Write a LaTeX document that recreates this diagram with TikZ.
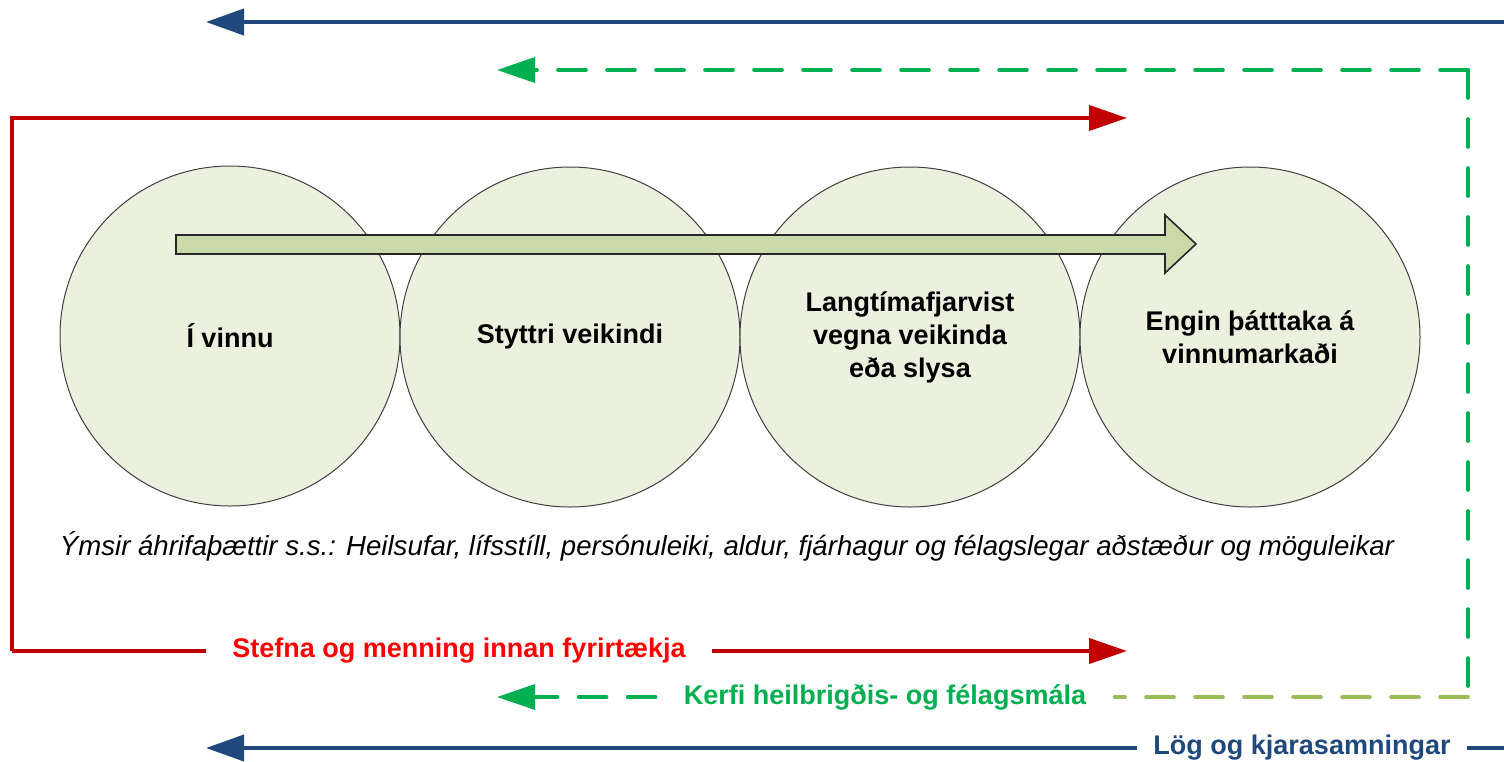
\documentclass[tikz,border=0pt]{standalone}
\usepackage{fontspec}
\setmainfont{Liberation Sans}
\usetikzlibrary{arrows.meta}
\definecolor{navy}{HTML}{1F497D}
\definecolor{dred}{HTML}{C00000}
\definecolor{tred}{HTML}{FF0000}
\definecolor{gdash}{HTML}{00B050}
\definecolor{olivel}{HTML}{9BBB59}
\definecolor{circfill}{HTML}{EBF1DE}
\definecolor{arrfill}{HTML}{C9DAA8}
\begin{document}
\begin{tikzpicture}[x=0.5pt,y=-0.5pt,
  circ/.style={circle, draw=black!75, line width=0.5pt, fill=circfill,
    minimum size=170pt, inner sep=0pt, align=center,
    font=\bfseries\fontsize{13.5}{16.5}\selectfont},
  lbl/.style={inner ysep=2pt, font=\bfseries\fontsize{13.5}{16}\selectfont},
  bluearrow/.style={draw=navy, line width=2pt},
  redarrow/.style={draw=dred, line width=2pt},
  greendash/.style={draw=gdash, line width=1.8pt, line cap=round,
    dash pattern=on 14pt off 10.5pt},
  olivedash/.style={draw=olivel, line width=1.8pt, line cap=round,
    dash pattern=on 14pt off 10.5pt},
  bluetip/.style={-{Triangle[length=19pt,width=13pt]}},
  redtip/.style={-{Triangle[length=19pt,width=12.5pt]}},
  greentip/.style={-{Triangle[length=19pt,width=12.5pt]}},
]
\useasboundingbox (0,0) rectangle (1504,761);

% circles
\node[circ] (c1) at (230,336) {Í vinnu};
\node[circ] (c2) at (570,337) {Styttri veikindi};
\node[circ] (c3) at (910,337) {Langtímafjarvist\\vegna veikinda\\eða slysa};
\node[circ] (c4) at (1250,337) {Engin þátttaka á\\vinnumarkaði};

% big arrow
\draw[fill=arrfill, draw=black!85, line width=0.8pt]
  (176,235) -- (1165,235) -- (1165,215) -- (1196,244) -- (1165,273)
  -- (1165,254) -- (176,254) -- cycle;

% italic text
\node[font=\itshape\fontsize{13.8}{16}\selectfont] (infl) at (727,546)
  {Ýmsir áhrifaþættir s.s.: Heilsufar, lífsstíll, persónuleiki, aldur, fjárhagur og félagslegar aðstæður og möguleikar};

% coordinates
\coordinate (bTR) at (1504,22);
\coordinate (bTL) at (206,22);
\coordinate (bBR) at (1504,748);
\coordinate (bBL) at (206,748);
\coordinate (gTR) at (1468,70);
\coordinate (gTL) at (497,70);
\coordinate (gBR) at (1468,697);
\coordinate (gBL) at (497,697);
\coordinate (rTL) at (12,118);
\coordinate (rTR) at (1127,118);
\coordinate (rBL) at (12,651);
\coordinate (rBR) at (1127,651);

% labels
\node[lbl, text=navy, inner xsep=8pt] (llog) at (1302,748) {Lög og kjarasamningar};
\node[lbl, text=gdash, inner xsep=14pt] (lker) at (885,697) {Kerfi heilbrigðis- og félagsmála};
\node[lbl, text=tred, inner xsep=13pt] (lstef) at (459,651) {Stefna og menning innan fyrirtækja};

% blue
\draw[bluearrow, bluetip] (bTR) -- (bTL);
\draw[bluearrow] (bBR) -- (llog.east);
\draw[bluearrow, bluetip] (llog.west) -- (bBL);

% green dashed
\draw[greendash, greentip] (gTR) -- (gTL);
\draw[greendash] (gTR) -- (gBR);
\draw[olivedash] (gBR) -- (lker.east);
\draw[greendash, greentip] (lker.west) -- (gBL);

% red
\draw[redarrow, redtip] (rBL) -- (rTL) -- (rTR);
\draw[redarrow] (rBL) -- (lstef.west);
\draw[redarrow, redtip] (lstef.east) -- (rBR);
\end{tikzpicture}
\end{document}
